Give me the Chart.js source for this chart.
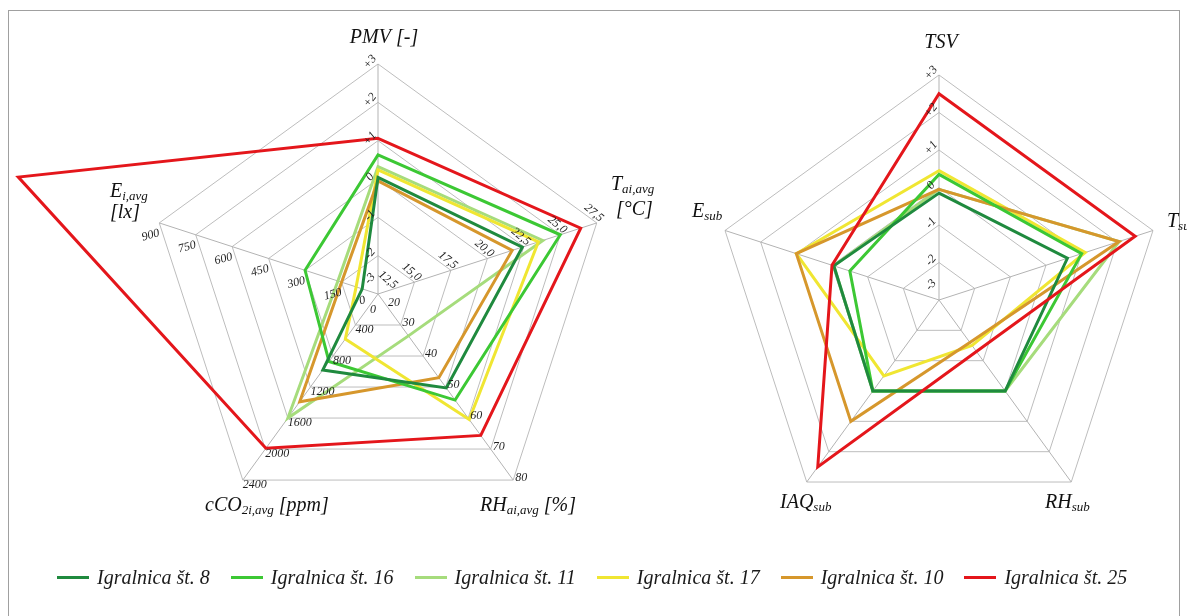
<!DOCTYPE html>
<html>
<head>
<meta charset="utf-8">
<script src="https://cdn.jsdelivr.net/npm/chart.js@4.4.1/dist/chart.umd.min.js"></script>
<style>
  html, body { margin: 0; padding: 0; background: #fff; }
  #page { position: relative; width: 1187px; height: 616px; overflow: hidden; background: #fff; }
  #frame { position: absolute; left: 8px; top: 10px; width: 1172px; height: 640px; border: 1px solid #a0a0a0; box-sizing: border-box; }
  canvas { position: absolute; left: 0; top: 0; }
  #legend { position: absolute; left: 0; top: 566px; width: 1187px; display: flex; padding-left: 57px; gap: 21px;
            font: italic 20px "Liberation Serif", serif; color: #1a1a1a; box-sizing: border-box; }
  .item { display: flex; align-items: center; white-space: nowrap; }
  .swatch { width: 32px; height: 3px; margin-right: 8px; }
</style>
</head>
<body>
<div id="page">
  <div id="frame"></div>
  <canvas id="measured" width="1187" height="616"></canvas>
  <canvas id="votes" width="1187" height="616"></canvas>
  <div id="legend"></div>
</div>
<script>
// Playrooms (series)
const rooms = ['Igralnica št. 8', 'Igralnica št. 16', 'Igralnica št. 11', 'Igralnica št. 17', 'Igralnica št. 10', 'Igralnica št. 25'];
const roomColors = ['#1f8a3e', '#3cc834', '#a6dc7c', '#f0e632', '#d6972c', '#e4161b'];
const drawOrder = [1, 2, 5, 4, 3, 0];

// Measured indoor conditions, one value per room
const pmv  = [0.04, 0.63, 0.32, 0.24, -0.05, 1.06];
const tai  = [22.4, 25.0, 23.8, 23.5, 21.7, 26.4];
const rhai = [50.3, 54.2, 33.5, 60.5, 47.0, 65.6];
const co2  = [980, 870, 1600, 580, 1390, 1990];
const ei   = [65, 300, 165, 90, 150, 1480];

// Subjective votes, one value per room
const tsv    = [-0.15, 0.35, -0.05, 0.45, -0.05, 2.5];
const tsub   = [0.6, 1.0, 2.05, 1.1, 2.05, 2.5];
const rhsub  = [0, 0, 0, -1.5, -1.6, -1.3];
const iaqsub = [0, 0, 0, -0.5, 1.0, 2.5];
const esub   = [-0.05, -0.5, -0.05, 1.0, 1.0, 0];

// Spoke scales: value at centre and value per ring
const measuredMin  = [-3, 12.5, 20, 0, 0];
const measuredStep = [1, 2.5, 10, 400, 150];
const voteMin  = [-3, -3, -3, -3, -3];
const voteStep = [1, 1, 1, 1, 1];

// Tick labels along each spoke (centre outwards)
const pmvTicks  = ['-3', '-2', '-1', '0', '+1', '+2', '+3'];
const taiTicks  = ['12,5', '15,0', '17,5', '20,0', '22,5', '25,0', '27,5'];
const rhaiTicks = ['20', '30', '40', '50', '60', '70', '80'];
const co2Ticks  = ['0', '400', '800', '1200', '1600', '2000', '2400'];
const eiTicks   = ['0', '150', '300', '450', '600', '750', '900'];
const voteTicks = ['-3', '-2', '-1', '0', '+1', '+2', '+3'];

const SERIF = '"Liberation Serif", "Times New Roman", serif';

// Draws a run of normal/subscript text pieces starting at x (or centred on x)
function drawRich(ctx, runs, x, y, align) {
  const fonts = [`italic 20px ${SERIF}`, `italic 13px ${SERIF}`];
  let total = 0;
  runs.forEach(([t, sub]) => { ctx.font = fonts[sub]; total += ctx.measureText(t).width; });
  let cx = align === 'center' ? x - total / 2 : x;
  ctx.textAlign = 'left';
  ctx.textBaseline = 'alphabetic';
  runs.forEach(([t, sub]) => {
    ctx.font = fonts[sub];
    ctx.fillText(t, cx, y + (sub ? 3 : 0));
    cx += ctx.measureText(t).width;
  });
}

function spokePlugin(tickSets, tickStyles, titles) {
  return {
    id: 'spokes',
    afterDatasetsDraw(chart) {
      const ctx = chart.ctx;
      const s = chart.scales.r;
      ctx.save();
      ctx.fillStyle = '#1e1e1e';
      ctx.font = `italic 12px ${SERIF}`;
      tickSets.forEach((ticks, i) => {
        const st = tickStyles[i];
        if (!ticks) return;
        ticks.forEach((lab, k) => {
          const d = s.getDistanceFromCenterForValue(k === 0 ? 0.35 : k);
          const p = s.getPointPosition(i, d);
          ctx.save();
          ctx.translate(p.x + st.dx, p.y + st.dy);
          ctx.rotate(st.rot * Math.PI / 180);
          ctx.textAlign = st.align;
          ctx.textBaseline = 'middle';
          ctx.fillText(lab, 0, 0);
          ctx.restore();
        });
      });
      ctx.fillStyle = '#111';
      titles.forEach(t => drawRich(ctx, t.runs, t.x, t.y, t.align));
      ctx.restore();
    }
  };
}

function radar(canvasId, axes, mins, steps, padding, tickSets, tickStyles, titles) {
  const datasets = rooms.map((name, r) => ({
    label: name,
    data: axes.map((arr, i) => (arr[r] - mins[i]) / steps[i]),
    borderColor: roomColors[r],
    backgroundColor: roomColors[r],
    borderWidth: 3,
    fill: false,
    pointRadius: 0,
    clip: false,
    order: drawOrder[r]
  }));
  return new Chart(document.getElementById(canvasId), {
    type: 'radar',
    data: { labels: axes.map((_, i) => String(i)), datasets },
    options: {
      responsive: false,
      animation: false,
      devicePixelRatio: 1,
      layout: { padding },
      elements: { line: { tension: 0, borderJoinStyle: 'miter' } },
      plugins: { legend: { display: false }, tooltip: { enabled: false } },
      scales: {
        r: {
          min: 0, max: 6,
          ticks: { display: false, stepSize: 1 },
          pointLabels: { display: false },
          grid: { color: '#bdbdbd', lineWidth: 1 },
          angleLines: { color: '#b3b3b3', lineWidth: 1 }
        }
      }
    },
    plugins: [spokePlugin(tickSets, tickStyles, titles)]
  });
}

const measuredTickStyles = [
  { align: 'center', dx: -8, dy: -2, rot: -50 },
  { align: 'center', dx: -3, dy: -10, rot: 40 },
  { align: 'left', dx: 2, dy: -2, rot: 0 },
  { align: 'left', dx: 0, dy: 5, rot: 0 },
  { align: 'right', dx: 0, dy: 10, rot: -15 }
];
const voteTickStyles = [{ align: 'center', dx: -8, dy: -2, rot: -50 }];

radar('measured', [pmv, tai, rhai, co2, ei], measuredMin, measuredStep,
  { left: 148, top: 64, right: 579, bottom: 92 },
  [pmvTicks, taiTicks, rhaiTicks, co2Ticks, eiTicks], measuredTickStyles,
  [
    { runs: [['PMV [-]', 0]], x: 384, y: 43, align: 'center' },
    { runs: [['T', 0], ['ai,avg', 1]], x: 611, y: 190, align: 'left' },
    { runs: [['[°C]', 0]], x: 616, y: 215, align: 'left' },
    { runs: [['RH', 0], ['ai,avg', 1], [' [%]', 0]], x: 480, y: 511, align: 'left' },
    { runs: [['cCO', 0], ['2i,avg', 1], [' [ppm]', 0]], x: 205, y: 511, align: 'left' },
    { runs: [['E', 0], ['i,avg', 1]], x: 110, y: 197, align: 'left' },
    { runs: [['[lx]', 0]], x: 110, y: 218, align: 'left' }
  ]);

radar('votes', [tsv, tsub, rhsub, iaqsub, esub], voteMin, voteStep,
  { left: 714, top: 75, right: 23, bottom: 91 },
  [voteTicks], voteTickStyles,
  [
    { runs: [['TSV', 0]], x: 941, y: 48, align: 'center' },
    { runs: [['T', 0], ['sub', 1]], x: 1167, y: 227, align: 'left' },
    { runs: [['RH', 0], ['sub', 1]], x: 1045, y: 508, align: 'left' },
    { runs: [['IAQ', 0], ['sub', 1]], x: 780, y: 508, align: 'left' },
    { runs: [['E', 0], ['sub', 1]], x: 692, y: 217, align: 'left' }
  ]);

// Legend row
const legend = document.getElementById('legend');
rooms.forEach((name, r) => {
  const item = document.createElement('div');
  item.className = 'item';
  const sw = document.createElement('span');
  sw.className = 'swatch';
  sw.style.background = roomColors[r];
  const tx = document.createElement('span');
  tx.textContent = name;
  item.appendChild(sw);
  item.appendChild(tx);
  legend.appendChild(item);
});
</script>
</body>
</html>
